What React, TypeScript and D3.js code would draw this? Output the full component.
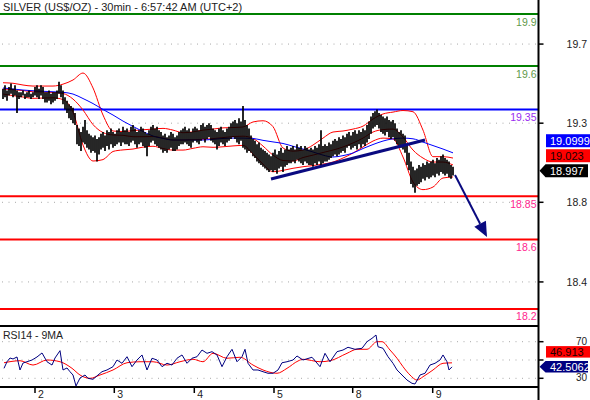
import React, { useEffect } from 'react';
import * as d3 from 'd3';

const TITLE = 'SILVER (US$/OZ) - 30min - 6:57:42 AM (UTC+2)';
const RSI_TITLE = 'RSI14 - 9MA';

const dayTickIdx = [16, 55.65, 95.65, 135.5, 174.85, 214.85];
const dayTickLabels = ['2', '3', '4', '5', '8', '9'];

const priceTicks = [19.727, 19.271, 18.815, 18.356];
const rsiTicks = [70, 50, 30];
const rsiTickLabels = ['70', '', '30'];

const levelValues = [19.9, 19.6, 19.35, 18.85, 18.6, 18.2];
const levelLabels = ['19.9', '19.6', '19.35', '18.85', '18.6', '18.2'];
const levelColors = ['#008000', '#008000', '#0000ff', '#ff0000', '#ff0000', '#ff0000'];
const levelTextColors = ['#5f9a4a', '#5f9a4a', '#9a2cf0', '#ff1f8e', '#ff1f8e', '#ff1f8e'];

const highs = [
  19.47, 19.49, 19.46, 19.48, 19.5, 19.47, 19.49, 19.46, 19.45,
  19.45, 19.46, 19.44, 19.45, 19.46, 19.44, 19.45,
  19.48, 19.49, 19.47, 19.49, 19.48, 19.45, 19.45, 19.46, 19.44, 19.45, 19.45, 19.46, 19.51, 19.49,
  19.46, 19.42, 19.4, 19.38, 19.37, 19.36, 19.33,
  19.26, 19.24, 19.22, 19.25, 19.29, 19.23, 19.21, 19.2, 19.19, 19.2, 19.18, 19.19,
  19.21, 19.22, 19.2, 19.23, 19.22, 19.24, 19.22, 19.21, 19.23, 19.24, 19.22, 19.25, 19.23,
  19.24, 19.22, 19.25, 19.26, 19.24, 19.22, 19.23, 19.25, 19.24, 19.22, 19.21, 19.23, 19.25, 19.26, 19.24, 19.25, 19.23,
  19.22, 19.2, 19.21, 19.19, 19.2, 19.22, 19.21, 19.19, 19.2, 19.22, 19.23, 19.24, 19.25, 19.23, 19.24, 19.22, 19.24, 19.25, 19.24, 19.23,
  19.26, 19.27, 19.25, 19.26, 19.27, 19.26, 19.24, 19.23, 19.22, 19.24, 19.25, 19.23, 19.22, 19.24, 19.25,
  19.27, 19.28, 19.29, 19.27, 19.3, 19.28, 19.37, 19.29, 19.26, 19.24,
  19.2, 19.18, 19.17, 19.15, 19.16, 19.13, 19.12, 19.11, 19.1, 19.09, 19.08,
  19.1, 19.12, 19.09, 19.11, 19.13, 19.1, 19.12, 19.14, 19.12,
  19.13, 19.14, 19.12, 19.15, 19.13, 19.14, 19.12, 19.14, 19.13, 19.12,
  19.13, 19.12, 19.14, 19.13, 19.15, 19.23, 19.14, 19.15,
  19.14, 19.16, 19.15, 19.17, 19.18, 19.17, 19.19, 19.18, 19.2, 19.19,
  19.21, 19.22, 19.2, 19.22, 19.23, 19.21, 19.23, 19.22, 19.24, 19.23,
  19.26, 19.28, 19.31, 19.33, 19.34, 19.35,
  19.33, 19.32, 19.31, 19.3, 19.31, 19.29, 19.28, 19.29, 19.27,
  19.24, 19.22, 19.23, 19.21, 19.2,
  19.14, 19.1,
  19.05, 19.02, 19.0, 19.01, 19.03,
  19.02, 19.04, 19.03, 19.05, 19.04, 19.05, 19.06, 19.04,
  19.07, 19.06, 19.08, 19.09, 19.07, 19.06, 19.05,
  19.03, 19.02,
];

const lows = [
  19.41, 19.42, 19.4, 19.43, 19.44, 19.42, 19.43, 19.33, 19.41,
  19.42, 19.43, 19.41, 19.42, 19.42, 19.41, 19.42,
  19.43, 19.42, 19.41, 19.43, 19.41, 19.39, 19.39, 19.4, 19.38, 19.39, 19.4, 19.41, 19.44, 19.42,
  19.38, 19.35, 19.33, 19.3, 19.29, 19.27, 19.26,
  19.15, 19.14, 19.11, 19.16, 19.15, 19.13, 19.12, 19.1, 19.11, 19.1, 19.05, 19.09,
  19.12, 19.13, 19.11, 19.14, 19.12, 19.15, 19.13, 19.14, 19.15, 19.16, 19.14, 19.16, 19.15,
  19.15, 19.14, 19.16, 19.17, 19.15, 19.13, 19.15, 19.16, 19.14, 19.13, 19.08, 19.14, 19.16, 19.17, 19.15, 19.14, 19.13,
  19.12, 19.1, 19.11, 19.1, 19.12, 19.13, 19.11, 19.11, 19.12, 19.14, 19.15, 19.15, 19.16, 19.15, 19.14, 19.13, 19.16, 19.17, 19.16, 19.15,
  19.17, 19.18, 19.16, 19.18, 19.19, 19.17, 19.16, 19.15, 19.12, 19.14, 19.16, 19.15, 19.14, 19.16, 19.17,
  19.18, 19.19, 19.18, 19.16, 19.15, 19.17, 19.13, 19.12, 19.1, 19.11,
  19.1, 19.08, 19.07, 19.05, 19.04, 19.03, 19.02, 19.01, 19.0, 18.99, 19.0,
  18.99, 19.0, 18.98, 19.01, 19.02, 18.99, 19.02, 19.03, 19.04,
  19.04, 19.05, 19.04, 19.06, 19.05, 19.04, 19.03, 19.05, 19.04, 19.03,
  19.03, 19.02, 19.04, 19.03, 19.05, 19.02, 19.04, 19.05,
  19.05, 19.06, 19.07, 19.08, 19.09, 19.08, 19.09, 19.1, 19.11, 19.1,
  19.13, 19.14, 19.12, 19.13, 19.14, 19.12, 19.15, 19.13, 19.15, 19.14,
  19.16, 19.18, 19.21, 19.24, 19.25, 19.26,
  19.24, 19.22, 19.21, 19.2, 19.22, 19.19, 19.18, 19.19, 19.17,
  19.15, 19.14, 19.13, 19.12, 19.1,
  19.03, 19.0,
  18.92, 18.9, 18.87, 18.91, 18.92,
  18.93, 18.95, 18.94, 18.96, 18.95, 18.96, 18.97, 18.96,
  18.98, 18.97, 18.99, 18.98, 18.97, 18.98, 18.96,
  18.95, 18.97,
];

const bandIdx = [
  0, 5, 10, 15, 20, 25, 30, 35, 40, 45, 50, 55, 60, 65, 70, 75, 80, 85, 90, 95, 100, 105, 110,
  115, 120, 125, 130, 135, 140, 145, 150, 155, 160, 165, 170, 175, 180, 185, 190, 195, 200, 205,
  210, 215, 220, 225,
];
const bbUpper = [
  19.504, 19.501, 19.491, 19.485, 19.485, 19.485, 19.496, 19.52, 19.56, 19.474, 19.318, 19.226,
  19.223, 19.228, 19.233, 19.237, 19.241, 19.231, 19.216, 19.221, 19.231, 19.237, 19.244, 19.246,
  19.249, 19.278, 19.285, 19.251, 19.128, 19.11, 19.116, 19.145, 19.185, 19.22, 19.226, 19.237,
  19.254, 19.295, 19.324, 19.335, 19.344, 19.337, 19.231, 19.078, 19.078, 19.07,
];
const bbMiddle = [
  19.468, 19.464, 19.459, 19.452, 19.451, 19.448, 19.442, 19.41, 19.347, 19.263, 19.217, 19.203,
  19.201, 19.193, 19.193, 19.194, 19.185, 19.174, 19.174, 19.176, 19.178, 19.182, 19.188, 19.194,
  19.196, 19.183, 19.139, 19.087, 19.056, 19.053, 19.073, 19.087, 19.102, 19.116, 19.134, 19.157,
  19.185, 19.22, 19.234, 19.237, 19.191, 19.116, 19.07, 19.047, 19.047, 19.03,
];
const bbLower = [
  19.439, 19.43, 19.422, 19.414, 19.416, 19.417, 19.407, 19.335, 19.145, 19.053, 19.061, 19.108,
  19.117, 19.122, 19.133, 19.138, 19.125, 19.116, 19.116, 19.126, 19.135, 19.132, 19.135, 19.14,
  19.143, 19.093, 19.035, 18.991, 18.999, 19.011, 19.02, 19.027, 19.035, 19.047, 19.07, 19.099,
  19.134, 19.168, 19.185, 19.18, 19.076, 18.932, 18.888, 18.903, 18.955, 18.961,
];
const maLine = [
  19.474, 19.468, 19.462, 19.458, 19.455, 19.452, 19.449, 19.439, 19.413, 19.384, 19.35, 19.318,
  19.283, 19.252, 19.223, 19.197, 19.183, 19.174, 19.174, 19.174, 19.174, 19.178, 19.183, 19.185,
  19.185, 19.183, 19.172, 19.163, 19.154, 19.138, 19.122, 19.105, 19.087, 19.076, 19.084, 19.099,
  19.125, 19.148, 19.168, 19.181, 19.185, 19.181, 19.162, 19.142, 19.122, 19.1,
];

const rsiIdx = [
  0.5, 2, 3.5, 5, 7, 8.5, 10, 12, 14.5, 17, 19.5, 22, 24.5, 26, 28.5, 30, 32, 33.5, 35, 36.5, 38.5,
  41, 42.5, 45, 47.5, 49.5, 52, 55, 57, 59.5, 62, 64.5, 67, 69.5, 72, 74.5, 77, 79.5, 82, 84.5, 87,
  89.5, 92, 94.5, 97, 99.5, 102, 104.5, 107, 109.5, 112, 114.5, 117, 119.5, 121, 122.5, 125, 127.5,
  130, 132.5, 135, 137.5, 139.5, 142, 145, 147, 150, 154.5, 158.5, 161, 163.5, 167, 170, 172.5, 176,
  179.5, 182, 184.5, 186.5, 187.5, 190, 192.5, 195, 197, 199.5, 202, 204.5, 206, 208.5, 211, 213.5,
  216, 218.5, 220, 222, 223, 224.5,
];
const rsiVal = [
  40.9, 48.1, 52.2, 51.1, 53.3, 39.1, 46.7, 48.1, 50, 53.3, 57.7, 48.1, 44.5, 52.2, 60.2, 39.1, 41.3,
  37.2, 33.6, 21.6, 30.3, 33.6, 30, 28.9, 33.6, 37.2, 39.1, 42.7, 50, 46.4, 53.6, 42.7, 50, 55.5,
  39.1, 51.9, 50, 42.7, 46.4, 44.5, 51.9, 55.5, 46.4, 51.9, 53.6, 60.9, 57.3, 59.1, 55.5, 42.7, 53.6,
  61.7, 48.1, 53.6, 61.7, 46.4, 39.1, 39.1, 37.2, 35.5, 35.5, 39.1, 47, 48.1, 50, 54.4, 50, 53, 42.7,
  57.3, 48.1, 59.1, 60.9, 63.9, 61.7, 62.8, 70, 73.7, 77.3, 64.5, 62.8, 53.6, 46.4, 39.1, 33.6, 28.1,
  24.5, 23.8, 33.6, 35.5, 44.5, 46.4, 50, 55.5, 48.1, 39.1, 42.5,
];
const rsiMaIdx = [
  0.5, 8.5, 15, 22, 28.5, 34.5, 38.5, 43.5, 48.5, 55, 62, 68.5, 75, 82, 88.5, 95, 100, 105, 112,
  118.5, 125, 130, 137, 142, 147.5, 150, 158.5, 163.5, 172, 177, 182, 187, 189.5, 193.5, 197, 200,
  203.5, 207, 210, 215, 220, 224.5,
];
const rsiMaVal = [
  47, 49.2, 44.5, 50, 48.1, 40.9, 33.6, 30, 33.6, 39.1, 47, 48.1, 48.1, 44.5, 48.1, 50.8, 48.1, 57.3,
  51.9, 53, 44.5, 39.1, 35.5, 40.9, 48.9, 50.8, 48.1, 49.2, 57.3, 61.7, 61.7, 70, 70, 60.9, 51.9,
  42.7, 33.6, 28.1, 31.7, 39.1, 46.4, 46.9,
];

const trendIdx = [134, 211];
const trendVal = [18.949, 19.174];
const arrowIdx = [226, 242];
const arrowVal = [18.972, 18.615];

const lastClose = 18.997;
const lastMa = 19.0999;
const lastMid = 19.023;
const lastRsi = 42.5062;
const lastRsiMa = 46.913;

const W = 590;
const H = 400;
const PR = 538.5;
const FONT = '"Liberation Sans", Arial, sans-serif';

type Tag = { value: number; text: string; fill: string; color: string; arrow: boolean };

function stack(tags: Tag[], scale: (v: number) => number, gap: number) {
  const out: { tag: Tag; y: number }[] = [];
  let prev = Infinity;
  for (const t of tags) {
    let yy = scale(t.value);
    if (yy > prev - gap) yy = prev - gap;
    out.push({ tag: t, y: yy });
    prev = yy;
  }
  return out;
}

export default function App() {
  useEffect(() => {
    document.body.style.margin = '0';
  }, []);

  const x = d3.scaleLinear().domain([0, 225]).range([3, 453]);
  const y = d3.scaleLinear().domain([18.102, 19.981]).range([326, 0]);
  const yr = d3.scaleLinear().domain([20.49, 87.16]).range([387, 326]);

  const bandLine = (vals: number[]) =>
    d3
      .line<number>()
      .x((_, i) => x(bandIdx[i]))
      .y((d) => y(d))
      .curve(d3.curveMonotoneX)(vals) || '';

  const rsiPath =
    d3
      .line<number>()
      .x((_, i) => x(rsiIdx[i]))
      .y((d) => yr(d))(rsiVal) || '';
  const rsiMaPath =
    d3
      .line<number>()
      .x((_, i) => x(rsiMaIdx[i]))
      .y((d) => yr(d))
      .curve(d3.curveMonotoneX)(rsiMaVal) || '';

  const ax0 = x(arrowIdx[0]);
  const ay0 = y(arrowVal[0]);
  const ax1 = x(arrowIdx[1]);
  const ay1 = y(arrowVal[1]);
  const len = Math.hypot(ax1 - ax0, ay1 - ay0);
  const ux = (ax1 - ax0) / len;
  const uy = (ay1 - ay0) / len;
  const hl = 15;
  const hw = 6.5;
  const bx = ax1 - ux * hl;
  const by = ay1 - uy * hl;
  const head = `${ax1},${ay1} ${bx - uy * hw},${by + ux * hw} ${bx + uy * hw},${by - ux * hw}`;

  const priceTags = stack(
    [
      { value: lastClose, text: d3.format('.3f')(lastClose), fill: '#000000', color: '#ffffff', arrow: true },
      { value: lastMid, text: d3.format('.3f')(lastMid), fill: '#ff0000', color: '#1a0000', arrow: false },
      { value: lastMa, text: d3.format('.4f')(lastMa), fill: '#0000ff', color: '#ffffff', arrow: false },
    ],
    y,
    15
  );
  const rsiTags = stack(
    [
      { value: lastRsi, text: d3.format('.4f')(lastRsi), fill: '#000080', color: '#ffffff', arrow: true },
      { value: lastRsiMa, text: d3.format('.3f')(lastRsiMa), fill: '#ff0000', color: '#1a0000', arrow: false },
    ],
    yr,
    15
  );

  const renderTag = (t: { tag: Tag; y: number }, k: string, h: number) => {
    const top = t.y - h / 2;
    return (
      <g key={k}>
        {t.tag.arrow ? (
          <polygon
            points={`${PR + 1},${t.y} ${PR + 7},${top} 588,${top} 588,${top + h} ${PR + 7},${top + h}`}
            fill={t.tag.fill}
          />
        ) : (
          <rect x={546} y={top} width={44} height={h} fill={t.tag.fill} />
        )}
        <text x={550} y={t.y} dy="0.36em" fontSize={11} fill={t.tag.color} fontFamily={FONT}>
          {t.tag.text}
        </text>
      </g>
    );
  };

  return (
    <svg
      width={W}
      height={H}
      viewBox={`0 0 ${W} ${H}`}
      style={{ position: 'absolute', left: 0, top: 0, display: 'block', background: '#fff' }}
    >
      <rect x={0} y={0} width={W} height={H} fill="#ffffff" />

      {priceTicks.map((t, i) => (
        <line key={'pg' + i} x1={2} x2={PR - 2} y1={y(t)} y2={y(t)} stroke="#a8a8a8" strokeDasharray="1 5.5" />
      ))}
      {rsiTicks.map((t, i) => (
        <line key={'rg' + i} x1={2} x2={PR - 2} y1={yr(t)} y2={yr(t)} stroke="#a8a8a8" strokeDasharray="1 5.5" />
      ))}

      {levelValues.map((v, i) => (
        <g key={'lv' + i}>
          <line x1={0} x2={PR} y1={y(v)} y2={y(v)} stroke={levelColors[i]} strokeWidth={2} />
          <text
            x={PR - 2}
            y={y(v) + 11.5}
            textAnchor="end"
            fontSize={10.5}
            fill={levelTextColors[i]}
            fontFamily={FONT}
          >
            {levelLabels[i]}
          </text>
        </g>
      ))}

      <path d={bandLine(bbUpper)} fill="none" stroke="#ff0000" strokeWidth={1} />
      <path d={bandLine(bbMiddle)} fill="none" stroke="#ff0000" strokeWidth={1} />
      <path d={bandLine(bbLower)} fill="none" stroke="#ff0000" strokeWidth={1} />
      <path d={bandLine(maLine)} fill="none" stroke="#0000ff" strokeWidth={1} />

      {highs.map((hv, i) => (
        <line key={'b' + i} x1={x(i)} x2={x(i)} y1={y(hv)} y2={y(lows[i])} stroke="#000" strokeWidth={1.7} />
      ))}

      <line
        x1={x(trendIdx[0])}
        y1={y(trendVal[0])}
        x2={x(trendIdx[1])}
        y2={y(trendVal[1])}
        stroke="#0a0a80"
        strokeWidth={3}
      />
      <line x1={ax0} y1={ay0} x2={bx} y2={by} stroke="#0a0a80" strokeWidth={2} />
      <polygon points={head} fill="#0a0a80" />

      <path d={rsiMaPath} fill="none" stroke="#ff0000" strokeWidth={1} />
      <path d={rsiPath} fill="none" stroke="#000080" strokeWidth={1} />

      <line x1={0} x2={PR} y1={326} y2={326} stroke="#000" strokeWidth={2} />
      <line x1={0} x2={PR} y1={387} y2={387} stroke="#000" strokeWidth={2} />
      <line x1={PR} x2={PR} y1={0} y2={H} stroke="#000" strokeWidth={2} />

      {priceTicks.map((t, i) => (
        <g key={'pt' + i}>
          <line x1={PR} x2={PR + 5} y1={y(t)} y2={y(t)} stroke="#000" strokeWidth={1.5} />
          <text x={587} y={y(t)} dy="0.36em" textAnchor="end" fontSize={10.5} fill="#222" fontFamily={FONT}>
            {d3.format('.1f')(t)}
          </text>
        </g>
      ))}
      {rsiTicks.map((t, i) => (
        <g key={'rt' + i}>
          <line x1={PR} x2={PR + 5} y1={yr(t)} y2={yr(t)} stroke="#000" strokeWidth={1.5} />
          <text x={587} y={yr(t)} dy="0.3em" textAnchor="end" fontSize={10} fill="#222" fontFamily={FONT}>
            {rsiTickLabels[i]}
          </text>
        </g>
      ))}

      {dayTickIdx.map((d, i) => (
        <g key={'dt' + i}>
          <line x1={x(d)} x2={x(d)} y1={387} y2={393} stroke="#000" strokeWidth={1.5} />
          <text x={x(d) + 3} y={397.5} fontSize={10.5} fill="#222" fontFamily={FONT}>
            {dayTickLabels[i]}
          </text>
        </g>
      ))}

      {priceTags.map((t, i) => renderTag(t, 'ptag' + i, 13))}
      {rsiTags.map((t, i) => renderTag(t, 'rtag' + i, 11.5))}

      <text x={3} y={11} fontSize={11} fill="#222" fontFamily={FONT}>
        {TITLE}
      </text>
      <text x={3} y={339} fontSize={10.5} fill="#222" fontFamily={FONT}>
        {RSI_TITLE}
      </text>
    </svg>
  );
}
